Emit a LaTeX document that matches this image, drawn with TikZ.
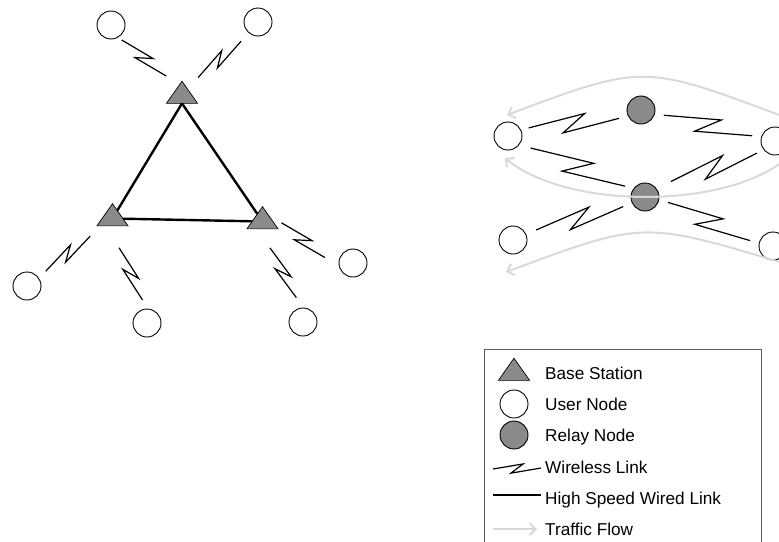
\documentclass[tikz,border=0pt]{standalone}
\usepackage{fontspec}
\setmainfont{Liberation Sans}
\usetikzlibrary{calc,shapes.geometric,arrows.meta}

\definecolor{nodegray}{RGB}{138,138,138}
\definecolor{flowgray}{RGB}{217,217,217}
\definecolor{boxgray}{RGB}{90,90,90}

\tikzset{
  user/.style={circle,draw,line width=0.9pt,fill=white,minimum size=28pt,inner sep=0pt},
  relay/.style={user,fill=nodegray},
  bstation/.style={regular polygon,regular polygon sides=3,draw,line width=0.7pt,fill=nodegray,
    minimum size=36pt,inner sep=0pt,outer sep=0pt,transform shape,yscale=0.82},
  wired/.style={line width=2.4pt},
  flow/.style={draw=flowgray,line width=2pt,-{Straight Barb[length=6pt,width=12pt]}},
  legtext/.style={anchor=base west,inner sep=0pt,font=\fontsize{17.2}{20}\selectfont},
  % wireless link: start fraction, end fraction, tilt angle
  wlink/.style n args={3}{line width=1.2pt,to path={
      ($(\tikztostart)!{(#1+#2)/2}!(\tikztotarget)$) coordinate (wm)
      ($(wm)!{(#2-#1)/(#1+#2)}!#3:(\tikztostart)$) coordinate (wa)
      ($(wm)!{(#2-#1)/(2-#1-#2)}!#3:(\tikztotarget)$) coordinate (wb)
      (wa) -- ($(wa)!0.63!(wb)!0.25!90:(wb)$)
           -- ($(wa)!0.37!(wb)!0.15!-90:(wb)$) -- (wb)}}
}

\begin{document}
\begin{tikzpicture}[x=1pt,y=-1pt]
  \useasboundingbox (0,0) rectangle (779,541);

  % Cellular part: base stations
  \node[bstation] (bs1) at (182,96) {}; % top
  \node[bstation] (bs2) at (112.5,218.5) {}; % left
  \node[bstation] (bs3) at (262.5,221.5) {}; % right

  % Cellular part: users
  \node[user] (u1) at (111,25) {};
  \node[user] (u2) at (258,22) {};
  \node[user] (u3) at (27,286) {};
  \node[user] (u4) at (147,323) {};
  \node[user] (u5) at (353,263) {};
  \node[user] (u6) at (303,322) {};

  % Wired backbone
  \draw[wired] (bs1.south) -- (bs2);
  \draw[wired] (bs1.south) -- (bs3);
  \draw[wired] (bs2) -- (bs3);

  % Wireless links to users
  \draw[wlink={0.18}{0.75}{6}] (u1) to (bs1);
  \draw[wlink={0.24}{0.77}{-4}] (u2) to (bs1);
  \draw[wlink={0.26}{0.78}{0}] (bs2) to (u3);
  \draw[wlink={0.27}{0.79}{6}] (bs2) to (u4);
  \draw[wlink={0.17}{0.73}{-14}] (bs3) to (u5);
  \draw[wlink={0.25}{0.77}{6}] (bs3) to (u6);

  % Relay part
  \node[user] (ul1) at (508,136) {};
  \node[user] (ul2) at (513,240) {};
  \node[user] (ur1) at (775,141) {};
  \node[user] (ur2) at (773,246) {};
  \node[relay] (r1) at (641,110) {};
  \node[relay] (r2) at (645,197) {};

  \draw[wlink={0.16}{0.83}{-5}] (ul1) to (r1);
  \draw[wlink={0.17}{0.83}{0}] (r1) to (ur1);
  \draw[wlink={0.17}{0.85}{2}] (ul1) to (r2);
  \draw[wlink={0.21}{0.85}{-5}] (r2) to (ur1);
  \draw[wlink={0.18}{0.83}{-3}] (ul2) to (r2);
  \draw[wlink={0.17}{0.83}{-4}] (r2) to (ur2);

  % Traffic flows
  \coordinate (f1a) at (782,116); \coordinate (f1b) at (507,115);
  \coordinate (f2a) at (782,162); \coordinate (f2b) at (505,158);
  \coordinate (f3a) at (783,263); \coordinate (f3b) at (506,272);
  \draw[flow] (f1a) .. controls (643,64) .. (f1b);
  \draw[flow] (f2a) .. controls (720,209) and (567,209) .. (f2b);
  \draw[flow] (f3a) .. controls (643,221) .. (f3b);

  % Legend
  \draw[draw=boxgray,line width=0.9pt] (484,349) rectangle (761,560);
  \node[bstation] (lbs) at (514,373) {};
  \node[legtext] (tbs) at (545,379) {Base Station};
  \node[user] (lus) at (514,404) {};
  \node[legtext] (tus) at (545,410) {User Node};
  \node[relay] (lre) at (514,435) {};
  \node[legtext] (tre) at (545,441) {Relay Node};
  \coordinate (lw1) at (493,469); \coordinate (lw2) at (541,468);
  \draw[wlink={0}{1}{0}] (lw1) to (lw2);
  \node[legtext] (twl) at (545,473) {Wireless Link};
  \coordinate (lh1) at (493,495); \coordinate (lh2) at (541,495);
  \draw[wired] (lh1) -- (lh2);
  \node[legtext] (thl) at (545,504) {High Speed Wired Link};
  \coordinate (lf1) at (493,529); \coordinate (lf2) at (537,529);
  \draw[flow] (lf1) -- (lf2);
  \node[legtext] (ttf) at (545,535) {Traffic Flow};
\end{tikzpicture}
\end{document}
